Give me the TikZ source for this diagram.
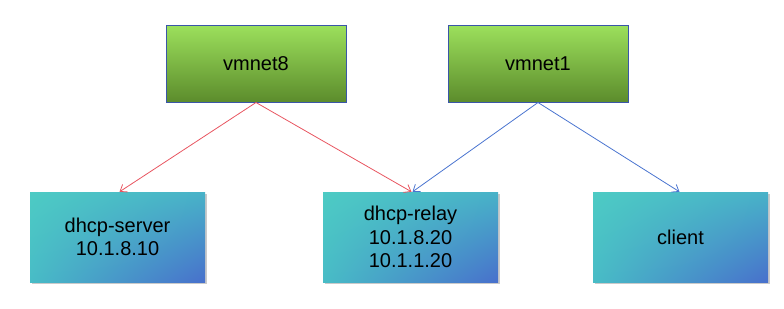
\documentclass[tikz,border=0pt]{standalone}
\usepackage{fontspec}
\setmainfont{Liberation Sans}
\usetikzlibrary{arrows.meta,shadows,shadings}
\definecolor{gtop}{HTML}{9CE05C}
\definecolor{gbot}{HTML}{5C8C2C}
\definecolor{gborder}{HTML}{3A56A8}
\definecolor{tul}{HTML}{4DCBC4}
\definecolor{tur}{HTML}{48B2C8}
\definecolor{tll}{HTML}{48BCC6}
\definecolor{tlr}{HTML}{4870CC}
\definecolor{redline}{HTML}{E85560}
\definecolor{blueline}{HTML}{4A74D0}
\tikzset{
  netbox/.style={draw=gborder, line width=1pt, top color=gtop, bottom color=gbot,
    minimum width=180pt, minimum height=77pt, inner sep=0pt,
    font=\fontsize{20}{23.5}\selectfont, align=center},
  hostbox/.style={upper left=tul, upper right=tur, lower left=tll, lower right=tlr,
    minimum width=175pt, minimum height=90pt, inner sep=0pt,
    font=\fontsize{20}{23.5}\selectfont, align=center,
    drop shadow={shadow xshift=1.5pt, shadow yshift=-2pt, opacity=0.35, fill=black!60}},
  redarrow/.style={draw=redline, line width=0.8pt, -{Straight Barb[length=6pt,width=9pt]}},
  bluearrow/.style={draw=blueline, line width=0.8pt, -{Straight Barb[length=6pt,width=9pt]}}
}
\begin{document}
\begin{tikzpicture}[x=1pt,y=-1pt]
\useasboundingbox (0,0) rectangle (784,308);
\node[netbox] (v8) at (256,63.5) {vmnet8};
\node[netbox] (v1) at (538,63.5) {vmnet1};
\node[hostbox] (srv) at (117.5,237) {dhcp-server\\10.1.8.10};
\node[hostbox] (rel) at (410.5,237) {dhcp-relay\\10.1.8.20\\10.1.1.20};
\node[hostbox] (cli) at (680.5,237) {client};
\draw[redarrow] (v8.south) -- ([xshift=2pt]srv.north);
\draw[redarrow] (v8.south) -- ([xshift=1pt]rel.north);
\draw[bluearrow] (v1.south) -- ([xshift=2pt]rel.north);
\draw[bluearrow] (v1.south) -- ([xshift=-1pt]cli.north);
\end{tikzpicture}
\end{document}
